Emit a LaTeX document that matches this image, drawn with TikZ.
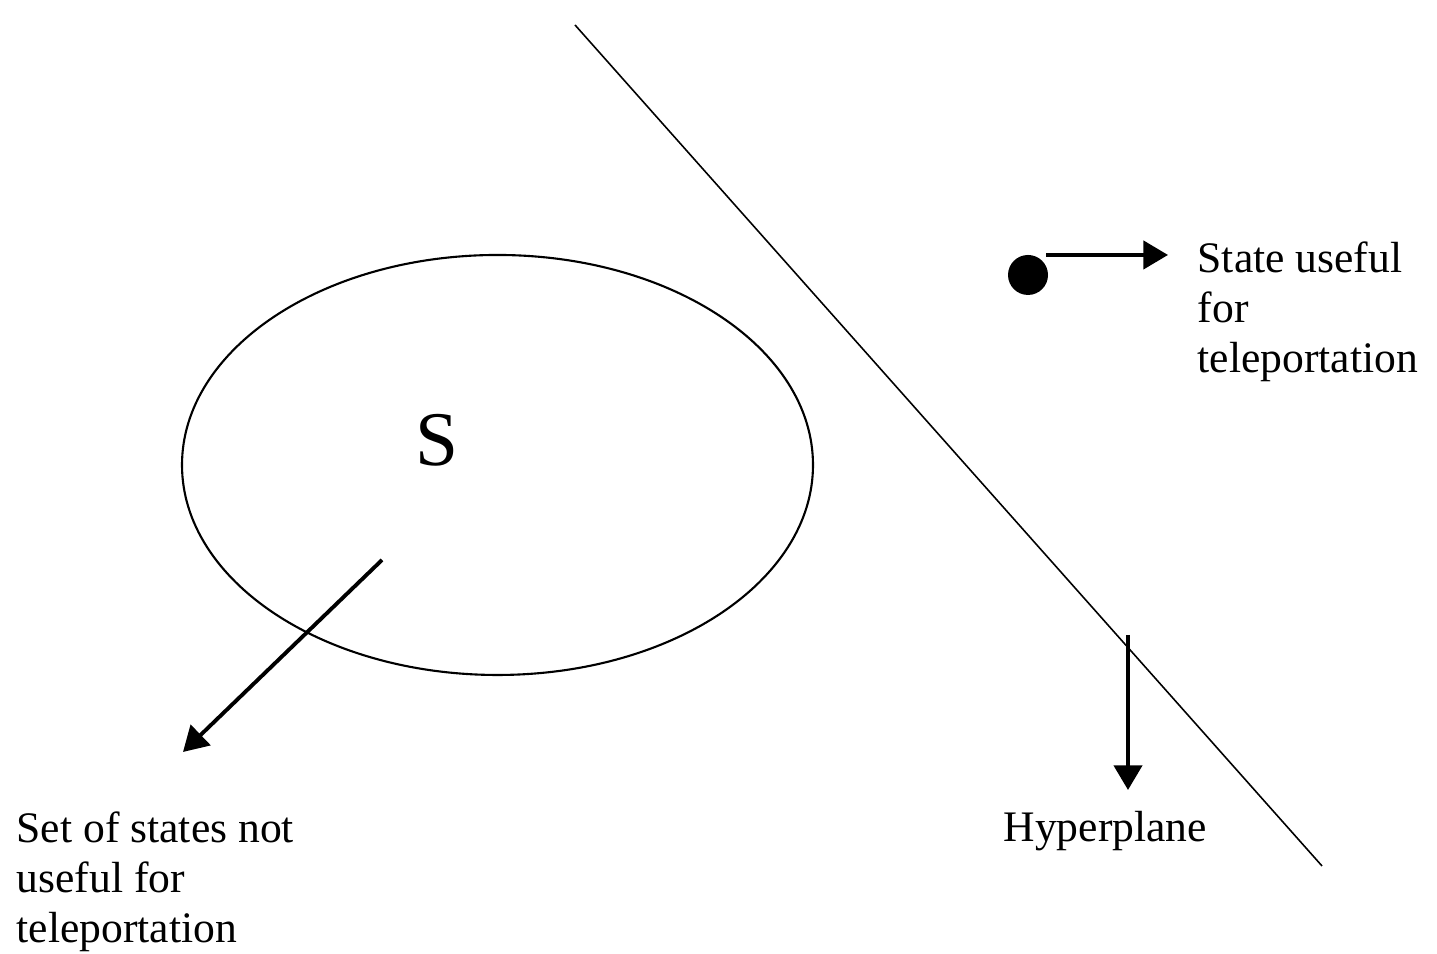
\documentclass[tikz,border=0pt]{standalone}
\usepackage{fontspec}
\setmainfont{Liberation Serif}
\usetikzlibrary{arrows.meta,shapes.geometric,positioning}

\begin{document}
\begin{tikzpicture}[
    setbox/.style={draw, ellipse, line width=0.6pt, minimum width=6.31cm, minimum height=4.2cm, inner sep=0pt},
    txt/.style={align=left, font=\fontsize{12.4}{14.3}\selectfont, inner sep=0pt, anchor=north west},
    arr/.style={-{Triangle[length=7pt, width=8pt]}, line width=1.1pt},
    dotst/.style={circle, fill=black, minimum size=0.4cm, inner sep=0pt}
]
\useasboundingbox (0,0) rectangle (14.37,9.54);

% hyperplane
\coordinate (H1) at (5.75,9.29);
\coordinate (H2) at (13.22,0.88);
\draw[line width=0.45pt] (H1) -- (H2);

% set of states
\node[setbox] (E) at (4.975,4.89) {};
\node[font=\fontsize{22}{26}\selectfont] (S) at (4.37,5.14) {S};
\coordinate (Ein) at (3.82,3.94);
\coordinate (Eout) at (1.83,2.02);
\draw[arr] (Ein) -- (Eout);
\node[txt] (Elbl) at (0.16,1.43) {Set of states not\\useful for\\teleportation};

% useful state
\node[dotst] (D) at (10.28,6.79) {};
\coordinate (Din) at (10.46,6.99);
\coordinate (Dout) at (11.68,6.99);
\draw[arr] (Din) -- (Dout);
\node[txt] (Dlbl) at (11.97,7.13) {State useful\\for\\teleportation};

% hyperplane label
\coordinate (Hin) at (11.28,3.19);
\coordinate (Hout) at (11.28,1.64);
\draw[arr] (Hin) -- (Hout);
\node[txt] (Hlbl) at (10.03,1.43) {Hyperplane};
\end{tikzpicture}
\end{document}
